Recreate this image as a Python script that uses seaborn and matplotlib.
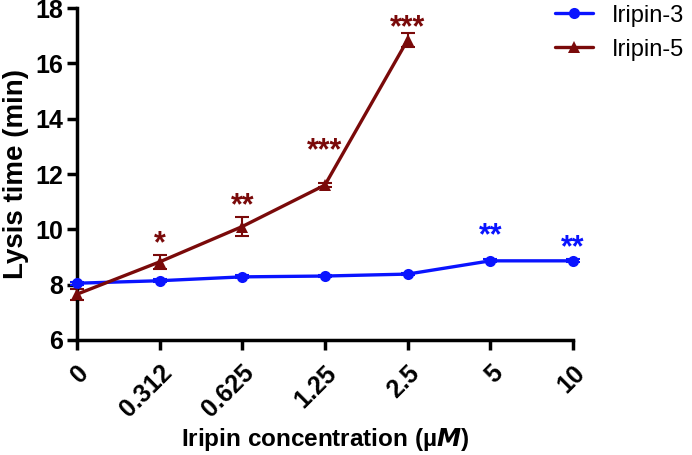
import matplotlib
matplotlib.use("Agg")
import matplotlib.pyplot as plt
import seaborn as sns
import pandas as pd
import numpy as np

conc_labels = ["0", "0.312", "0.625", "1.25", "2.5", "5", "10"]
iripin3_mean = [8.05, 8.14, 8.28, 8.31, 8.38, 8.86, 8.86]
iripin3_err = [0.05, 0.05, 0.05, 0.04, 0.05, 0.05, 0.05]
iripin5_conc = ["0", "0.312", "0.625", "1.25", "2.5"]
iripin5_mean = [7.65, 8.82, 10.1, 11.6, 16.85]
iripin5_err = [0.2, 0.25, 0.35, 0.08, 0.25]
iripin3_sig = ["", "", "", "", "", "**", "**"]
iripin5_sig = ["", "*", "**", "***", "***"]

blue = "#0a14ff"
red = "#7a0a0a"

sns.set_theme(style="ticks")
plt.rcParams['font.family'] = ['Liberation Sans', 'DejaVu Sans']
plt.rcParams.update({"text.color": "black", "axes.labelcolor": "black",
                     "xtick.color": "black", "ytick.color": "black"})

pos = {c: i for i, c in enumerate(conc_labels)}
df = pd.concat([
    pd.DataFrame({"x": [pos[c] for c in conc_labels], "y": iripin3_mean, "err": iripin3_err,
                  "series": "Iripin-3", "sig": iripin3_sig}),
    pd.DataFrame({"x": [pos[c] for c in iripin5_conc], "y": iripin5_mean, "err": iripin5_err,
                  "series": "Iripin-5", "sig": iripin5_sig}),
])

fig = plt.figure(figsize=(6.92, 4.55), dpi=100)
ax = fig.add_axes([0.111, 0.253, 0.717, 0.729])

palette = {"Iripin-3": blue, "Iripin-5": red}
sns.lineplot(data=df, x="x", y="y", hue="series", style="series",
             markers={"Iripin-3": "o", "Iripin-5": "^"}, dashes=False,
             palette=palette, linewidth=2.4, markersize=8, markeredgewidth=0,
             ax=ax, legend=True, clip_on=False, zorder=3)
h, l = ax.get_legend_handles_labels()
ax.get_legend().remove()

for s, g in df.groupby("series"):
    ax.errorbar(g["x"], g["y"], yerr=g["err"], fmt="none", ecolor=palette[s],
                elinewidth=1.5, capsize=5, capthick=1.5, clip_on=False, zorder=2)

offsets = {("Iripin-5", 1): -3, ("Iripin-5", 2): -3, ("Iripin-5", 3): 12,
           ("Iripin-5", 4): -7, ("Iripin-3", 5): 6, ("Iripin-3", 6): -3}
for _, r in df.iterrows():
    if r["sig"]:
        top = r["y"] + r["err"]
        ax.annotate(r["sig"], (r["x"], top), xytext=(0, offsets[(r["series"], int(r["x"]))]),
                    textcoords="offset points", ha="center", va="bottom",
                    color=palette[r["series"]], fontsize=22, fontweight="bold")

ax.set_xlim(0, 6)
ax.set_ylim(6, 18)
ax.set_yticks(np.arange(6, 19, 2))
ax.set_xticks(range(len(conc_labels)))
ax.set_xticklabels(conc_labels, rotation=45, ha="right", rotation_mode="anchor")
for lab in ax.get_xticklabels() + ax.get_yticklabels():
    lab.set_fontweight("bold")
    lab.set_fontsize(18)
    lab.set_color("black")
ax.tick_params(axis="both", width=2.5, length=7, color="black", pad=3)
ax.tick_params(axis="x", pad=8)
for sp in ["left", "bottom"]:
    ax.spines[sp].set_linewidth(2.5)
    ax.spines[sp].set_color("black")
sns.despine(ax=ax)

ax.set_xlabel("Iripin concentration (\u00b5$\\mathbfit{M}$)", fontsize=17.5, fontweight="bold",
              labelpad=3, color="black")
ax.set_ylabel("Lysis time (min)", fontsize=20, fontweight="bold", labelpad=4, color="black")

leg = fig.legend(h, l, loc="upper left", bbox_to_anchor=(0.795, 1.0), frameon=False,
                 fontsize=17, handlelength=1.6, handletextpad=0.8, labelspacing=0.5,
                 borderaxespad=0.1, borderpad=0.1)
for t in leg.get_texts():
    t.set_color("black")

fig.savefig("out.png", dpi=100)
